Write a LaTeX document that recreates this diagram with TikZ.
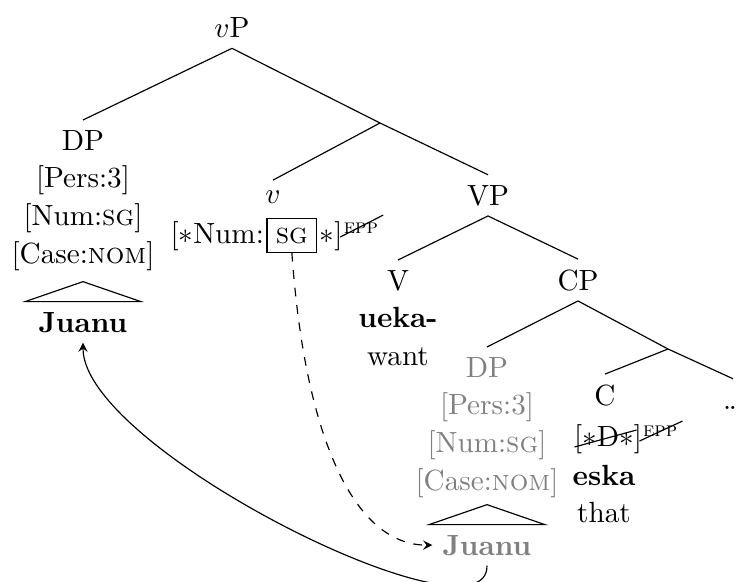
\documentclass[tikz,border=0pt]{standalone}
\usepackage{tikz}
\usetikzlibrary{positioning}

\begin{document}
\begin{tikzpicture}[x=0.3425pt, y=0.3425pt,
    stack/.style={align=center, font=\fontsize{10pt}{12.9pt}\selectfont},
    piece/.style={inner sep=0pt},
    eppmark/.style={inner sep=0pt, font=\scriptsize},
    ghost/.style={text=gray}]
  \useasboundingbox (0,0) rectangle (737,-582);

  % upper part
  \node (vP) [anchor=base] at (232,-38) {$v$P};
  \node (dp) [stack, anchor=north] at (83,-120) {DP\\{}[Pers:3]\\{}[Num:\textsc{sg}]\\{}[Case:\textsc{nom}]};
  \node (juanu) [anchor=base, font=\bfseries] at (83,-332) {Juanu};
  \draw (juanu.north) +(-58,0) -- +(0,20) -- +(58,0) -- cycle;
  \coordinate (vbar) at (380,-123);
  \node (v) [anchor=base] at (273,-203) {$v$};
  \node (vnum) [piece, anchor=base west] at (170,-243) {[$\ast$Num:};
  \node (sg) [draw, inner sep=3pt, anchor=base west, xshift=0.7pt] at (vnum.base east) {\textsc{sg}};
  \node (vend) [piece, anchor=base west, xshift=0.7pt] at (sg.base east) {$\ast$]};
  \node (vepp) [eppmark, anchor=base west, yshift=3.4pt] at (vend.base east) {\textsc{epp}};
  \draw (vepp.base west) +(-3,-4) -- +(40,18);
  \node (VP) [anchor=base] at (488,-205) {VP};
  \node (V) [stack, anchor=north] at (398,-260) {V\\\textbf{ueka-}\\want};
  \node (CP) [anchor=base] at (578,-290) {CP};

  % embedded clause
  \node (dp2) [stack, ghost, anchor=north] at (487,-347) {DP\\{}[Pers:3]\\{}[Num:\textsc{sg}]\\{}[Case:\textsc{nom}]};
  \node (juanu2) [ghost, anchor=base, font=\bfseries] at (487,-555) {Juanu};
  \draw (juanu2.north) +(-58,0) -- +(0,20) -- +(58,0) -- cycle;
  \coordinate (cbar) at (668,-349);
  \node (C) [anchor=base] at (605,-405) {C};
  \node (cfeat) [piece, anchor=base] at (608,-446) {[$\ast$D$\ast$]};
  \node (cepp) [eppmark, anchor=base west, yshift=3.4pt] at (cfeat.base east) {\textsc{epp}};
  \draw (cfeat.base west) +(1,-1) -- +(63,16);
  \draw (cepp.base west) +(-3,-5) -- +(40,15);
  \node (eska) [anchor=base, font=\bfseries] at (604,-485) {eska};
  \node (that) [anchor=base] at (604,-522) {that};
  \node (more) [anchor=base, text height=6.83pt] at (733,-409) {\dots};

  % branches
  \draw (vP.south) -- (dp.north);
  \draw (vP.south) -- (vbar) -- (VP.north);
  \draw (vbar) -- (v.north);
  \draw (VP.south) -- (V.north);
  \draw (VP.south) -- (CP.north);
  \draw (CP.south) -- (dp2.north);
  \draw (CP.south) -- (cbar) -- (more.north);
  \draw (cbar) -- (C.north);

  % agree and move
  \draw[dashed, -stealth] (sg.south) .. controls (305,-440) and (355,-545) .. (juanu2.west);
  \draw[-stealth] (juanu2.south) .. controls (488,-650) and (83,-450) .. (juanu.south);
\end{tikzpicture}
\end{document}
